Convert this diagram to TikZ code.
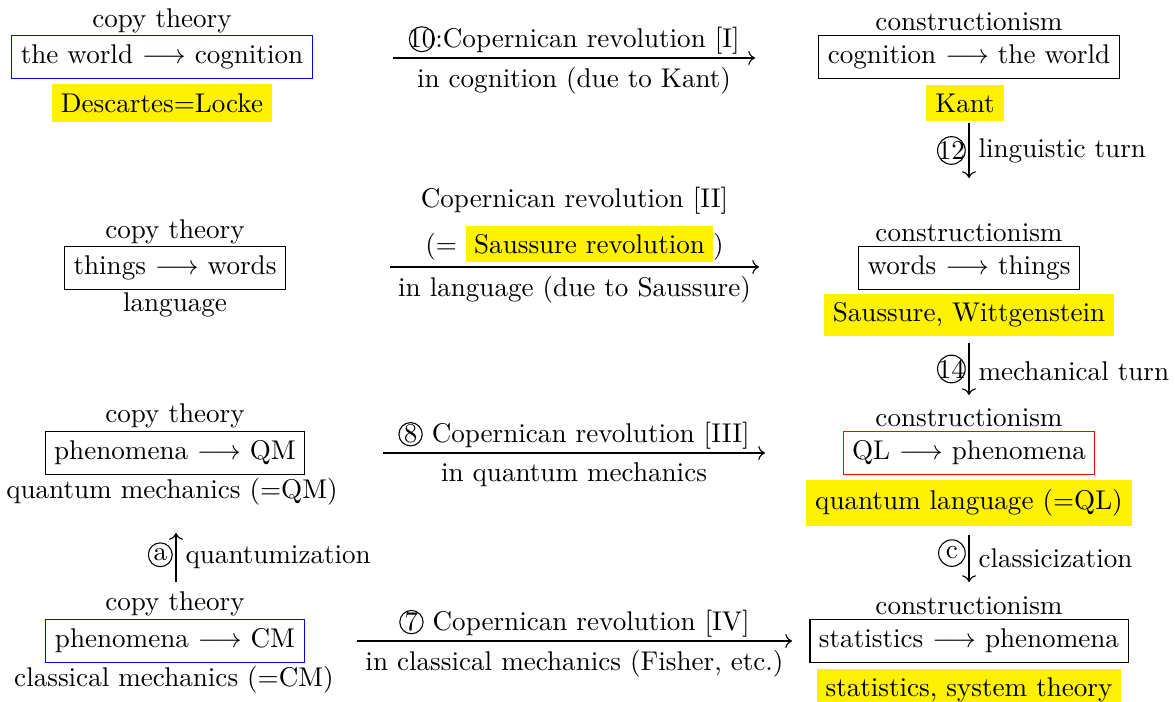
\documentclass[tikz,border=0pt]{standalone}
\usepackage{xcolor}
\usepackage{amsmath, amssymb}
\usepackage{tikz}
\usetikzlibrary{arrows.meta, calc}

% circled label: optional radius, then the text
\newcommand{\circnum}[2][4.3pt]{\tikz[baseline=0pt]{\node[inner sep=0pt,anchor=base] (cn) at (0,0) {#2}; \draw (cn.center) circle (#1);}}

\tikzset{
  hilite/.style={fill=yellow},
  turn/.style={->},
}

\begin{document}
\begin{tikzpicture}[x=0.369pt, y=-0.369pt]
\useasboundingbox (0,0) rectangle (1175,702);

% Row I: cognition
\node (copyA) at (162,21) {copy theory};
\node[draw=blue] (worldA) at (162,57) {the world $\longrightarrow$ cognition};
\node[hilite] (descartes) at (162,103) {Descartes=Locke};
\node (consA) at (969,22) {constructionism};
\node[draw] (cognA) at (969,57) {cognition $\longrightarrow$ the world};
\node[hilite] (kant) at (965,103) {Kant};
\coordinate (revAs) at (393,58);
\coordinate (revAe) at (755,58);
\draw[->] (revAs) -- (revAe)
  node[midway,above,inner sep=1pt] {\circnum[4.6pt]{10}:Copernican revolution [I]}
  node[midway,below] {in cognition (due to Kant)};

% Row II: language
\node (copyB) at (175,232) {copy theory};
\node[draw] (thingsB) at (175,268) {things $\longrightarrow$ words};
\node (langB) at (175,305) {language};
\node (consB) at (969,233) {constructionism};
\node[draw] (wordsB) at (969,268) {words $\longrightarrow$ things};
\node[hilite] (saussure) at (969,315) {Saussure, Wittgenstein};
\coordinate (revBs) at (390,267);
\coordinate (revBe) at (759,267);
\draw[->] (revBs) -- (revBe)
  node[midway,above,inner sep=1.5pt,align=center] {Copernican revolution [II]\\[3.5pt](= \colorbox{yellow}{Saussure revolution})}
  node[midway,below] {in language (due to Saussure)};

% Row III: quantum mechanics
\node (copyC) at (175,416) {copy theory};
\node[draw] (phenoC) at (175,453) {phenomena $\longrightarrow$ QM};
\node (qmC) at (172,492) {quantum mechanics (=QM)};
\node (consC) at (969,418) {constructionism};
\node[draw=red] (qlC) at (969,453) {QL $\longrightarrow$ phenomena};
\node[hilite] (qlang) at (969,503) {quantum language (=QL)};
\coordinate (revCs) at (383,453);
\coordinate (revCe) at (765,453);
\draw[->] (revCs) -- (revCe)
  node[midway,above,inner sep=1pt] {\circnum{8} Copernican revolution [III]}
  node[midway,below] {in quantum mechanics};

% Row IV: classical mechanics
\node (copyD) at (175,604) {copy theory};
\node[draw=blue] (phenoD) at (175,641) {phenomena $\longrightarrow$ CM};
\node (cmD) at (174,680) {classical mechanics (=CM)};
\node (consD) at (969,606) {constructionism};
\node[draw] (statD) at (969,641) {statistics $\longrightarrow$ phenomena};
\node[hilite] (system) at (969,690) {statistics, system theory};
\coordinate (revDs) at (357,641);
\coordinate (revDe) at (792,641);
\draw[->] (revDs) -- (revDe)
  node[midway,above,inner sep=1pt] {\circnum{7} Copernican revolution [IV]}
  node[midway,below] {in classical mechanics (Fisher, etc.)};

% Turns
\coordinate (turnAs) at (969,123);
\coordinate (turnAe) at (969,178);
\draw[turn] (turnAs) -- (turnAe)
  node[midway,left,inner sep=1pt] {\circnum[5.1pt]{12}}
  node[midway,right] {linguistic turn};
\coordinate (turnBs) at (969,343);
\coordinate (turnBe) at (969,395);
\draw[turn] (turnBs) -- (turnBe)
  node[midway,left,inner sep=1pt] {\circnum[5.1pt]{14}}
  node[midway,right,yshift=-1pt] {mechanical turn};
\coordinate (turnCs) at (969,535);
\coordinate (turnCe) at (969,582);
\draw[turn] (turnCs) -- (turnCe)
  node[midway,left,inner sep=1pt,yshift=2pt] {\circnum[4.9pt]{c}}
  node[midway,right] {classicization};
\coordinate (turnDs) at (176,582);
\coordinate (turnDe) at (176,533);
\draw[turn] (turnDs) -- (turnDe)
  node[midway,left,inner sep=1pt,yshift=1pt] {\circnum[4.4pt]{a}}
  node[midway,right] {quantumization};
\end{tikzpicture}
\end{document}
